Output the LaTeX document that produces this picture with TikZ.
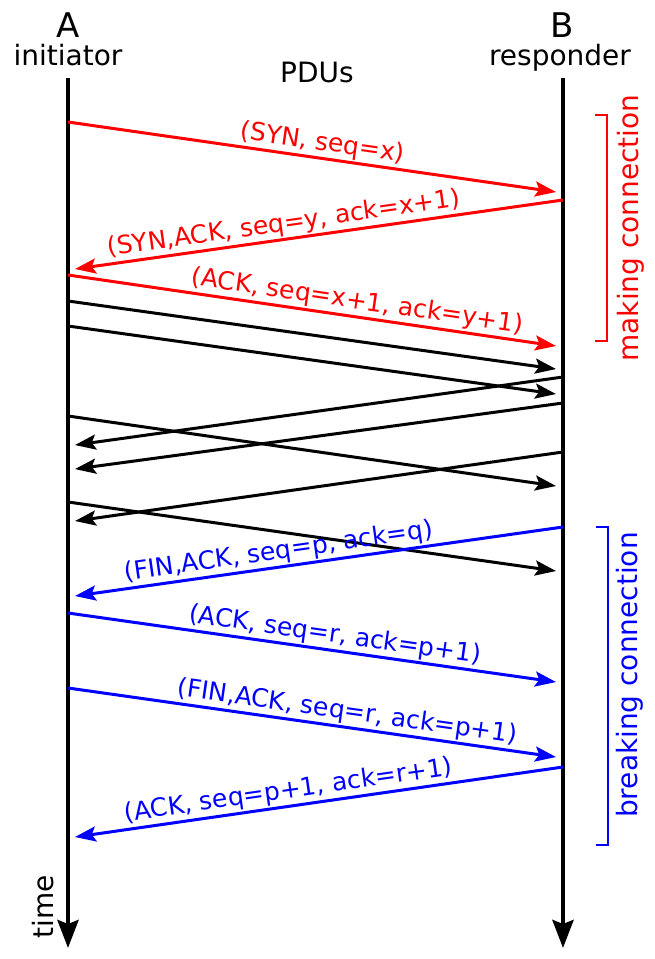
\documentclass[tikz,border=0pt]{standalone}
\usepackage{fontspec}
\setmainfont{DejaVu Sans}
\usetikzlibrary{arrows.meta}

\begin{document}
\begin{tikzpicture}[x=1pt,y=-1pt,
    >={Stealth[length=21pt,width=15pt,inset=4pt]},
    msg/.style={->,line width=3pt,shorten >=7pt},
    lbl/.style={sloped,above,inner sep=1.5pt,font=\fontsize{25}{27}\selectfont},
    head/.style={anchor=base,font=\fontsize{28}{30}\selectfont},
    bracket/.style={line width=2.5pt}]
\useasboundingbox (0,0) rectangle (654,959);

% Entetes
\node[head,font=\fontsize{34}{36}\selectfont] (nameA) at (68,37) {A};
\node[head] (roleA) at (68,65) {initiator};
\node[head,font=\fontsize{34}{36}\selectfont] (nameB) at (562,37) {B};
\node[head] (roleB) at (560,65) {responder};
\node[head] (pdus) at (317,82) {PDUs};

% Lignes de vie
\coordinate (topA) at (68,78);
\coordinate (botA) at (68,948);
\coordinate (topB) at (563,78);
\coordinate (botB) at (563,948);
\draw[line width=4.5pt,-{Stealth[length=28pt,width=21pt,inset=4pt]}] (topA) -- (botA);
\draw[line width=4.5pt,-{Stealth[length=28pt,width=21pt,inset=4pt]}] (topB) -- (botB);
\node[head,rotate=90] (time) at (53,907) {time};

% Etablissement
\coordinate (a1) at (68,122);  \coordinate (b1) at (563,193);
\coordinate (b2) at (563,200); \coordinate (a2) at (68,270);
\coordinate (a3) at (68,275);  \coordinate (b3) at (563,347);
\draw[msg,red] (a1) -- (b1) node[lbl,pos=.51] {(SYN, seq=x)};
\draw[msg,red] (b2) -- (a2) node[lbl,pos=.56] {(SYN,ACK, seq=y, ack=x+1)};
\draw[msg,red] (a3) -- (b3) node[lbl,pos=.58] {(ACK, seq=x+1, ack=y+1)};

% Donnees
\coordinate (a4) at (68,301);  \coordinate (b4) at (563,370);
\coordinate (a5) at (68,326);  \coordinate (b5) at (563,395);
\coordinate (b6) at (563,377); \coordinate (a6) at (68,446);
\coordinate (b7) at (563,403); \coordinate (a7) at (68,470);
\coordinate (a8) at (68,416);  \coordinate (b8) at (563,487);
\coordinate (b9) at (563,452); \coordinate (a9) at (68,522);
\coordinate (a10) at (68,502); \coordinate (b10) at (563,572);
\draw[msg] (a4) -- (b4);
\draw[msg] (a5) -- (b5);
\draw[msg] (b6) -- (a6);
\draw[msg] (b7) -- (a7);
\draw[msg] (a8) -- (b8);
\draw[msg] (b9) -- (a9);
\draw[msg] (a10) -- (b10);

% Fermeture
\coordinate (b11) at (563,527); \coordinate (a11) at (68,597);
\coordinate (a12) at (68,613);  \coordinate (b12) at (563,683);
\coordinate (a13) at (68,688);  \coordinate (b13) at (563,758);
\coordinate (b14) at (563,767); \coordinate (a14) at (68,838);
\draw[msg,blue] (b11) -- (a11) node[lbl,pos=.57] {(FIN,ACK, seq=p, ack=q)};
\draw[msg,blue] (a12) -- (b12) node[lbl,pos=.535] {(ACK, seq=r, ack=p+1)};
\draw[msg,blue] (a13) -- (b13) node[lbl,pos=.56] {(FIN,ACK, seq=r, ack=p+1)};
\draw[msg,blue] (b14) -- (a14) node[lbl,pos=.55] {(ACK, seq=p+1, ack=r+1)};

% Accolades
\draw[bracket,red] (595,115) -- (607,115) -- (607,341) -- (595,341);
\node[head,rotate=90,red] (making) at (638,228) {making connection};
\draw[bracket,blue] (596,527) -- (608,527) -- (608,845) -- (596,845);
\node[head,rotate=90,blue] (breaking) at (637,675) {breaking connection};

\end{tikzpicture}
\end{document}
